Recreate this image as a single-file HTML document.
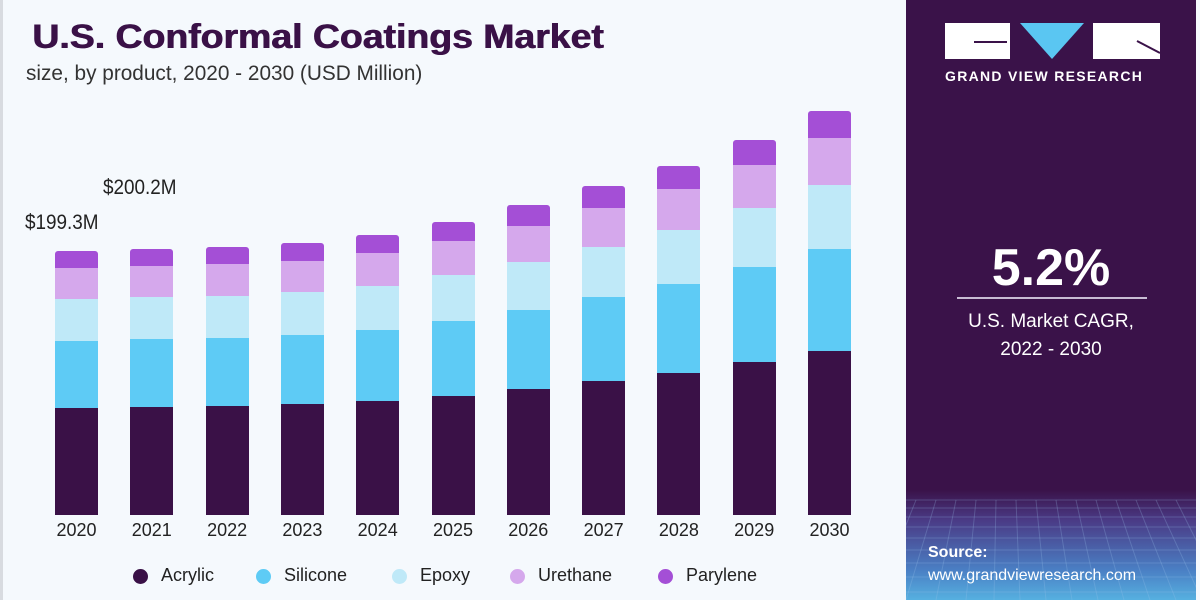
<!DOCTYPE html>
<html><head><meta charset="utf-8"><style>
body{margin:0;width:1200px;height:600px;overflow:hidden;background:#f5f9fd;font-family:"Liberation Sans",sans-serif;position:relative}
.t{position:absolute;white-space:nowrap}
.bar{position:absolute;width:43px;border-radius:3px 3px 0 0;overflow:hidden}
.bar div{position:absolute;left:0;width:100%}
</style></head><body>
<div style="position:absolute;left:0;top:0;width:3px;height:600px;background:#d8dbe0"></div>
<div class="t" style="left:32px;top:18px;font-size:34px;font-weight:bold;color:#3a1147;transform:scaleX(1.1);transform-origin:left;text-shadow:0.8px 0 0 #3a1147">U.S. Conformal Coatings Market</div>
<div class="t" style="left:26px;top:62px;font-size:21px;color:#333;transform:scaleX(0.99);transform-origin:left">size, by product, 2020 - 2030 (USD Million)</div>
<div class="t" style="left:103px;top:176px;font-size:21px;color:#222;transform:scaleX(0.9);transform-origin:left">$200.2M</div>
<div class="t" style="left:25px;top:211px;font-size:21px;color:#222;transform:scaleX(0.9);transform-origin:left">$199.3M</div>
<div id="bars"></div>
<div style="position:absolute;left:906px;top:0;width:290px;height:600px;background:linear-gradient(#3a1249 0,#3a1249 490px,#4a3a85 520px,#4a7fc4 570px,#56b0e0 600px)"></div>
<svg style="position:absolute;left:906px;top:490px" width="290" height="110">
<g stroke="#9ac4ec" stroke-opacity="0.25" stroke-width="1" fill="none">
<path d="M0 10 H290 M0 18 H290 M0 27 H290 M0 37 H290 M0 48 H290 M0 60 H290 M0 73 H290 M0 87 H290 M0 102 H290"/>
<path d="M10 10 L-30 110 M30 10 L0 110 M50 10 L30 110 M70 10 L60 110 M90 10 L88 110 M110 10 L114 110 M130 10 L140 110 M150 10 L166 110 M170 10 L192 110 M190 10 L218 110 M210 10 L244 110 M230 10 L270 110 M250 10 L296 110 M270 10 L320 110"/>
</g></svg>
<div style="position:absolute;left:945px;top:23px;width:65px;height:36px;background:#fff"></div>
<div style="position:absolute;left:974px;top:41px;width:33px;height:2px;background:#3a1249"></div>
<div style="position:absolute;left:1093px;top:23px;width:67px;height:36px;background:#fff"></div>
<svg style="position:absolute;left:1020px;top:23px" width="140" height="40"><polygon points="0,0 64,0 32,36" fill="#5ac6f2"/><line x1="117" y1="18" x2="140" y2="30" stroke="#3a1249" stroke-width="2"/></svg>
<div class="t" style="left:945px;top:68px;font-size:14px;font-weight:bold;color:#fff;letter-spacing:1.3px">GRAND VIEW RESEARCH</div>
<div class="t" style="left:906px;top:238px;width:290px;text-align:center;font-size:52px;font-weight:bold;color:#fff">5.2%</div>
<div style="position:absolute;left:957px;top:297px;width:190px;height:2px;background:#c8bcd4"></div>
<div class="t" style="left:906px;top:308px;width:290px;text-align:center;font-size:19px;color:#fff;line-height:28px">U.S. Market CAGR,<br>2022 - 2030</div>
<div class="t" style="left:928px;top:544px;font-size:16px;font-weight:bold;color:#fff">Source:</div>
<div class="t" style="left:928px;top:567px;font-size:16px;color:#fff">www.grandviewresearch.com</div>
<div class="t" style="left:0;top:565px;width:906px;font-size:18px;color:#222">
<span style="position:absolute;left:133px;top:4px;width:15px;height:15px;border-radius:50%;background:#3a1147"></span><span style="position:absolute;left:161px">Acrylic</span>
<span style="position:absolute;left:256px;top:4px;width:15px;height:15px;border-radius:50%;background:#5ecbf5"></span><span style="position:absolute;left:284px">Silicone</span>
<span style="position:absolute;left:392px;top:4px;width:15px;height:15px;border-radius:50%;background:#bfe9f8"></span><span style="position:absolute;left:420px">Epoxy</span>
<span style="position:absolute;left:510px;top:4px;width:15px;height:15px;border-radius:50%;background:#d5a8ec"></span><span style="position:absolute;left:538px">Urethane</span>
<span style="position:absolute;left:658px;top:4px;width:15px;height:15px;border-radius:50%;background:#a44fd6"></span><span style="position:absolute;left:686px">Parylene</span>
</div>
<script>
var d=[[251,268,299,341,408],[249,266,297,339,407],[247,264,296,338,406],[243,261,292,335,404],[235,253,286,330,401],[222,241,275,321,396],[205,226,262,310,389],[186,208,247,297,381],[166,189,230,284,373],[140,165,208,267,362],[111,138,185,249,351]];
var c=["#a44fd6","#d5a8ec","#bfe9f8","#5ecbf5","#3a1147"];var h="";
d.forEach(function(b,i){var x=55+i*75.3;var top=b[0];h+='<div class="bar" style="left:'+x+'px;top:'+top+'px;height:'+(515-top)+'px">';
for(var k=0;k<5;k++){var y0=b[k],y1=k<4?b[k+1]:515;h+='<div style="top:'+(y0-top)+'px;height:'+(y1-y0)+'px;background:'+c[k]+'"></div>';}
h+='</div><div class="t" style="left:'+(x-10)+'px;width:63px;text-align:center;top:520px;font-size:18px;color:#222">'+(2020+i)+'</div>';});
document.getElementById("bars").innerHTML=h;
</script>
</body></html>
